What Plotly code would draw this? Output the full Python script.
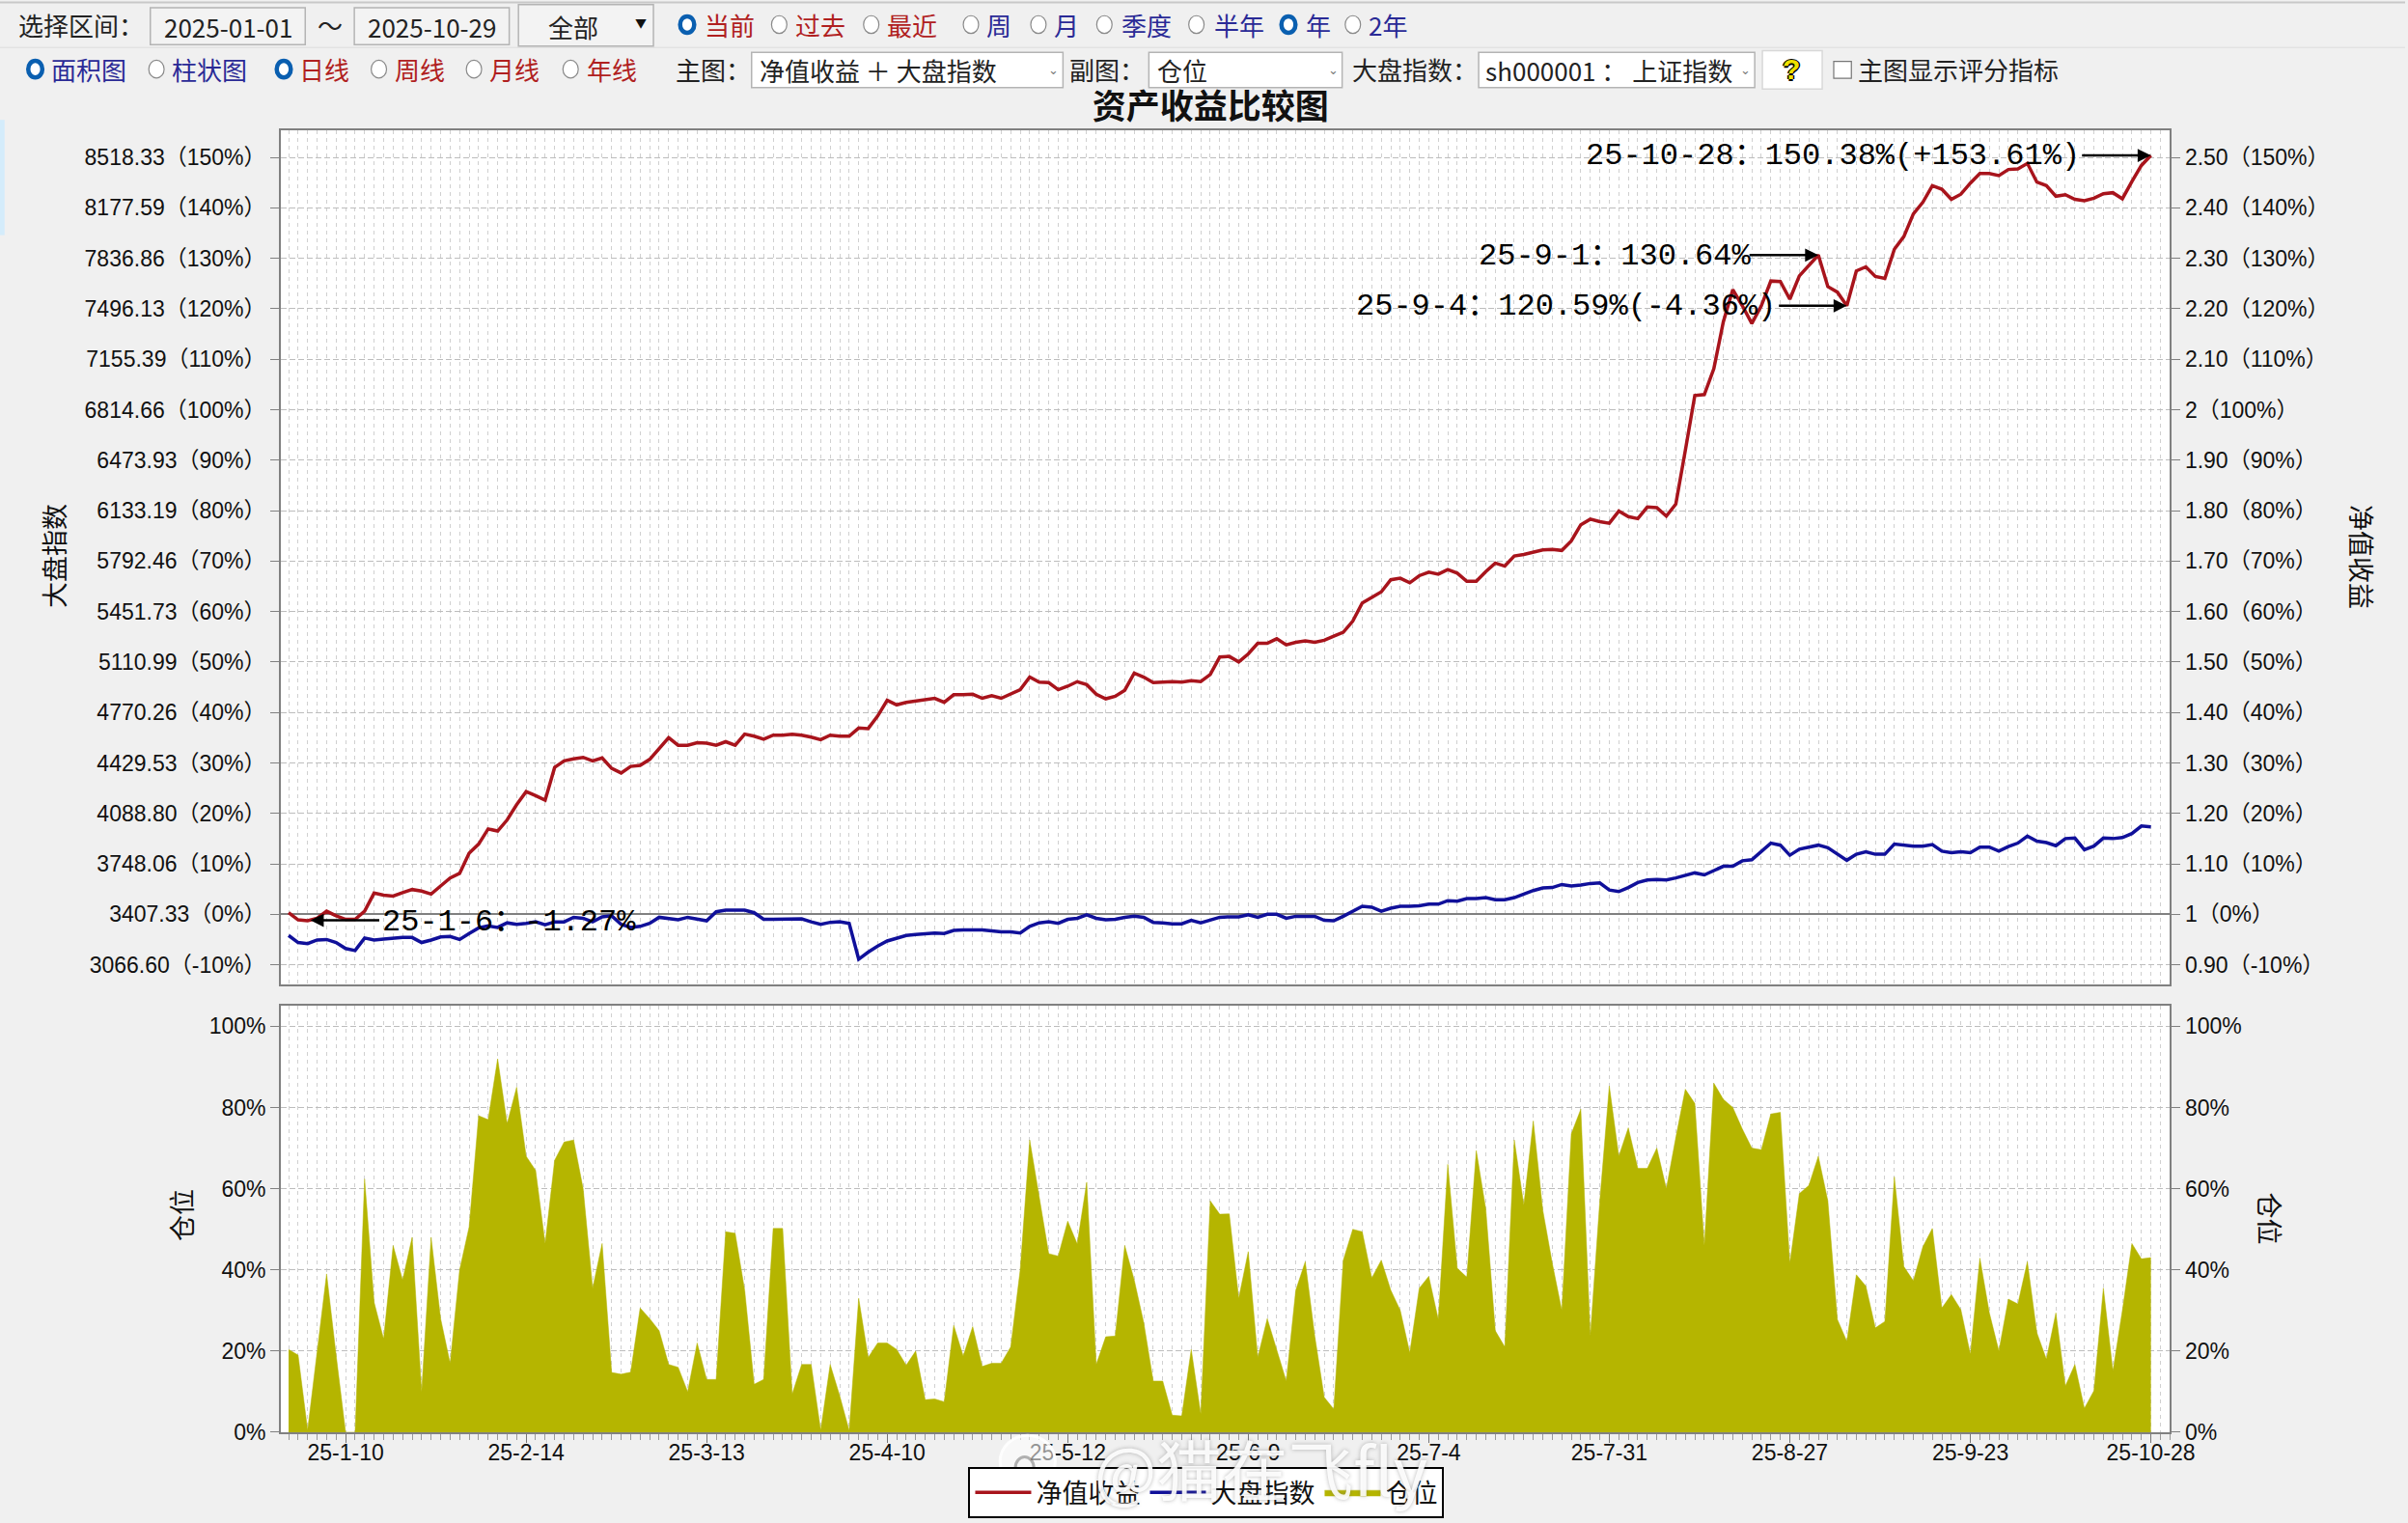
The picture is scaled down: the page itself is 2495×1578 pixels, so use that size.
import pandas as pd
import plotly.graph_objects as go

# ---------- data ----------
holidays = ["2025-01-28","2025-01-29","2025-01-30","2025-01-31","2025-02-03","2025-02-04",
            "2025-04-04","2025-05-01","2025-05-02","2025-05-05","2025-06-02",
            "2025-10-01","2025-10-02","2025-10-03","2025-10-06","2025-10-07","2025-10-08"]
dates = [f"{d.year % 100}-{d.month}-{d.day}" for d in pd.bdate_range("2025-01-02", "2025-10-28")
         if d.strftime("%Y-%m-%d") not in holidays]

tick_labels = ["25-1-10","25-2-14","25-3-13","25-4-10","25-5-12","25-6-9","25-7-4","25-7-31","25-8-27","25-9-23","25-10-28"]

net_return = [0.3,-1.1,-1.27,-0.8,0.6,-0.3,-1,-1,0.6,4.2,3.8,3.6,4.3,4.9,4.6,4,5.6,7.2,8.1,12.1,13.9,16.9,16.5,18.7,21.7,24.3,23.5,22.6,29.1,30.4,
 30.8,31.1,30.4,31,28.9,28,29.3,29.5,30.7,32.9,35,33.5,33.5,34,33.9,33.5,34.2,33.5,35.7,35.3,34.7,35.5,35.5,35.7,35.5,35.1,34.6,35.5,35.3,35.3,
 36.9,36.8,39.3,42.4,41.5,42,42.3,42.6,42.8,42,43.5,43.5,43.6,42.8,43.3,42.8,43.6,44.5,47,46,45.9,44.5,45.2,46.1,45.5,43.6,42.7,43.2,44.4,47.8,
 47,45.9,46,46.1,46,46.3,46.1,47.5,51,51.1,50,51.6,53.7,53.7,54.6,53.4,53.9,54.2,53.9,54.3,55.1,55.9,58.1,61.7,62.8,63.9,66.3,66.6,65.7,67.1,
 67.8,67.4,68.3,67.6,66,66,67.9,69.6,69,71,71.3,71.8,72.2,72.3,72.1,74,77.2,78.3,77.8,77.5,79.9,78.8,78.4,80.7,80.6,78.9,81.3,91.9,102.8,103,
 108.1,117.4,123.8,120.6,117.1,120.6,125.5,125.4,121.9,126.5,128.6,130.64,124.4,123.3,120.59,127.5,128.3,126.4,126,131.8,134.3,138.8,141.1,144.4,143.7,141.7,
 142.7,144.9,146.8,146.8,146.4,147.6,147.7,148.8,145.1,144.4,142.3,142.6,141.7,141.4,141.9,142.8,143,141.8,145.2,148.4,150.38]

index_return = [-4.2,-5.6,-5.8,-5.1,-5,-5.6,-6.8,-7.2,-4.7,-5.1,-4.9,-4.7,-4.6,-4.6,-5.6,-5.1,-4.5,-4.4,-5,-3.8,-2.7,-2.3,-2.6,-1.7,-2,-1.8,-1.5,-2.1,-1.5,-1.5,
 -0.6,-0.8,-1.5,-0.5,-0.3,-2,-2.6,-2.4,-1.8,-0.6,-0.9,-1.1,-0.6,-0.9,-1.3,0.5,0.8,0.8,0.8,0.3,-1,-1,-1,-1,-0.9,-1.5,-2,-1.6,-1.5,-1.8,
 -8.9,-7.5,-6.3,-5.3,-4.8,-4.2,-4,-3.8,-3.7,-3.8,-3.2,-3.1,-3.1,-3.1,-3.3,-3.5,-3.5,-3.7,-2.4,-1.7,-1.5,-1.8,-1,-0.8,-0.1,-0.8,-1.1,-1,-0.6,-0.4,
 -0.6,-1.6,-1.7,-1.9,-1.9,-1.2,-1.7,-1.2,-0.6,-0.5,-0.5,-0.1,-0.6,0,0,-0.8,-0.4,-0.4,-0.4,-1.2,-1.3,-0.4,0.6,1.6,1.4,0.6,1.2,1.6,1.6,1.7,
 2,2,2.7,2.6,3.1,3.1,3.3,2.9,2.9,3.3,4,4.7,5.2,5.3,5.9,5.6,5.8,6.1,6.2,4.8,4.5,5.3,6.3,6.8,6.9,6.8,7.2,7.7,8.2,7.8,
 8.7,9.5,9.5,10.6,10.8,12.5,14.1,13.7,11.7,12.9,13.3,13.7,13.2,11.9,10.7,11.9,12.4,11.9,11.9,13.9,13.7,13.5,13.5,13.8,12.5,12.2,12.4,12.2,13.3,13.3,
 12.5,13.4,14.1,15.5,14.5,14.2,13.6,15,15.1,12.8,13.5,15.1,15,15.2,16,17.5,17.3]

position = [20.4,19,0.5,20,39,19,0,0,62.4,32,23,46,37.5,48,10,48,28,17,40,50.6,78,77,92,76,85,68,64.5,46.5,67,71.5,
 72,60,35.5,46.5,14.7,14.3,14.8,30.6,28,25,16.7,16,10,22,13,13,49.4,49,35,11.8,13,50.2,50.2,9.4,16.7,16.7,0.5,16.7,9,0.4,
 33,18.4,22,22,20.4,16.5,20,8,8.2,7.5,26.3,18.8,26,16.2,17,17,21,40,72,58,44,43.4,52,46.4,61.6,16.7,23.5,23.7,46,37.5,
 27,12.6,12.6,4.2,4,20.4,4.5,57,53.7,53.8,33,44.5,18.4,28,20.4,12.6,35,42,23.7,8.6,5.7,42.4,50,49.4,38,42.4,35,30,19.6,35.5,
 38.4,27.8,66,40.4,38.2,69.4,55,25,21,72,56,76.7,54.7,41.6,30,73.5,79.6,23.7,57,85.3,68,75,65,65,70,60,72.6,84.5,81,46,
 86,82,80,74.7,70,69.6,78.4,78.8,41.6,58.8,60.8,68,57,27.8,22.4,38.8,36,25.7,27.3,62.9,40.8,37.3,45.7,50.2,30.6,33.9,30.2,19.2,42.9,29.4,
 20,32.8,31.6,42,24.5,18,29.4,11.4,16.7,5.9,10.2,35.5,15.1,30,46.5,42.7,43]

main_ticks = [-10,0,10,20,30,40,50,60,70,80,90,100,110,120,130,140,150]
left_ticktext = ["3066.60（-10%）","3407.33（0%）","3748.06（10%）","4088.80（20%）","4429.53（30%）","4770.26（40%）",
                 "5110.99（50%）","5451.73（60%）","5792.46（70%）","6133.19（80%）","6473.93（90%）","6814.66（100%）",
                 "7155.39（110%）","7496.13（120%）","7836.86（130%）","8177.59（140%）","8518.33（150%）"]
right_ticktext = ["0.90（-10%）","1（0%）","1.10（10%）","1.20（20%）","1.30（30%）","1.40（40%）","1.50（50%）","1.60（60%）",
                  "1.70（70%）","1.80（80%）","1.90（90%）","2（100%）","2.10（110%）","2.20（120%）","2.30（130%）","2.40（140%）","2.50（150%）"]
sub_ticks = [0,20,40,60,80,100]
sub_ticktext = ["0%","20%","40%","60%","80%","100%"]

# ---------- styling ----------
W, H = 2495, 1578
FIG_W, FIG_H = 2518, 1592
CJK = "Noto Sans CJK SC"
SANS = "Liberation Sans"
MONO = "Liberation Mono, Noto Sans CJK SC"
RED, BLUE, OLIVE = "#a8141c", "#10109a", "#b5b500"
NAVY, DRED = "#2a2a96", "#b02020"
GRID, MINOR, FRAME = "#bdbdbd", "#d0d0d0", "#808080"

X = lambda d: d / 1568
Y = lambda d: 1 - d / 991.7

idx = list(range(len(dates)))
tickvals = [dates.index(t) for t in tick_labels]
xrange_ = [-0.8, 198]

fig = go.Figure()
fig.add_trace(go.Scatter(x=idx, y=net_return, name="净值收益", mode="lines", line=dict(color=RED, width=3.5), yaxis="y3", xaxis="x"))
fig.add_trace(go.Scatter(x=idx, y=index_return, name="大盘指数", mode="lines", line=dict(color=BLUE, width=3.5), yaxis="y", xaxis="x"))
fig.add_trace(go.Scatter(x=idx, y=position, name="仓位", mode="lines", line=dict(color=OLIVE, width=0.5),
                         fill="tozeroy", fillcolor=OLIVE, yaxis="y2", xaxis="x2"))

minor_grid = dict(dtick=1, tick0=0, showgrid=True, gridcolor=MINOR, griddash="4px,4px", gridwidth=1)
main_range = [-13.84, 155.35]
common_y = dict(showgrid=True, gridcolor=GRID, griddash="6px,3px", gridwidth=1, ticks="outside", ticklen=9, tickcolor=FRAME,
                tickfont=dict(family=f"{SANS}, {CJK}", size=23, color="#111"), showline=True, linecolor=FRAME, linewidth=2)

ann, shapes = [], []

def label(dx, dy, text, color="#222", size=26, anchor="left", family=CJK, **kw):
    ann.append(dict(xref="paper", yref="paper", x=X(dx), y=Y(dy), text=text, showarrow=False, xanchor=anchor, yanchor="middle",
                    font=dict(family=family, size=size, color=color), **kw))

def box(x0, y0, x1, y1, fill="#f3f3f3", line="#b4b4b4", width=1.5):
    shapes.append(dict(type="rect", xref="paper", yref="paper", x0=X(x0), x1=X(x1), y0=Y(y0), y1=Y(y1),
                       fillcolor=fill, line=dict(color=line, width=width), layer="below"))

def radio(cx, cy, on=False):
    r = 4.6 if on else 5
    shapes.append(dict(type="circle", xref="paper", yref="paper", x0=X(cx - r), x1=X(cx + r), y0=Y(cy - r - 0.8), y1=Y(cy + r + 0.8),
                       fillcolor="#ffffff", line=dict(color="#0a5fb0" if on else "#8a8a8a", width=4.5 if on else 1.2)))

# separators and side strip
shapes.append(dict(type="line", xref="paper", yref="paper", x0=0, x1=1, y0=Y(1.5), y1=Y(1.5), line=dict(color="#c8c8c8", width=2), layer="below"))
shapes.append(dict(type="line", xref="paper", yref="paper", x0=0, x1=1, y0=Y(31), y1=Y(31), line=dict(color="#e2e2e2", width=1.5), layer="below"))
box(0, 78, 3, 153, fill="#d4ecfb", line="#d4ecfb", width=0)

# row 1
label(11, 16, "选择区间：")
box(98, 5, 199, 29)
label(148.5, 17, "2025-01-01", anchor="center")
label(215, 16, "～", anchor="center")
box(231, 5, 332, 29)
label(281.5, 17, "2025-10-29", anchor="center")
box(338, 3, 426, 30)
label(374, 17, "全部", anchor="center")
label(418, 15, "▼", anchor="center", size=12, color="#111")
for cx, text, color, tx, on in [(448, "当前", DRED, 458, True), (508, "过去", DRED, 517, False), (568, "最近", DRED, 577, False),
                                (633, "周", NAVY, 642, False), (677, "月", NAVY, 686, False), (720, "季度", NAVY, 730, False),
                                (780, "半年", NAVY, 790, False), (840, "年", NAVY, 850, True), (882, "2年", NAVY, 891, False)]:
    radio(cx, 16, on)
    label(tx, 16, text, color=color)

# row 2
for cx, text, color, tx, on in [(23, "面积图", NAVY, 32, True), (102, "柱状图", NAVY, 111, False), (185, "日线", DRED, 194, True),
                                (247, "周线", DRED, 256, False), (309, "月线", DRED, 318, False), (372, "年线", DRED, 381, False)]:
    radio(cx, 45, on)
    label(tx, 45, text, color=color)
label(439, 45, "主图：")
box(490, 34, 693, 57, fill="#ffffff")
label(494, 45.5, "净值收益 ＋ 大盘指数")
label(687, 45, "⌄", anchor="center", size=13, color="#777")
label(696, 45, "副图：")
box(749, 34, 875, 57, fill="#ffffff")
label(753, 45.5, "仓位")
label(869, 45, "⌄", anchor="center", size=13, color="#777")
label(880, 45, "大盘指数：")
box(964, 34, 1144, 57, fill="#ffffff")
label(967, 45.5, "sh000001 ： 上证指数")
label(1138, 45, "⌄", anchor="center", size=13, color="#777")
box(1149, 33, 1188, 58, fill="#ffffff", line="#d8d8d8")
label(1168, 45, "<b>?</b>", anchor="center", size=30, color="#f0e000", family=SANS)
ann[-1]["font"]["shadow"] = "1.5px 0 0 #000, -1.5px 0 0 #000, 0 1.5px 0 #000, 0 -1.5px 0 #000"
box(1195.5, 40, 1207, 51, fill="#ffffff", line="#777777", width=1.2)
label(1210, 45, "主图显示评分指标")

# axis titles
label(35, 362, "大盘指数", anchor="center", size=27, color="#111", textangle=-90)
label(1540, 362, "净值收益", anchor="center", size=27, color="#111", textangle=90)
label(118, 791, "仓位", anchor="center", size=27, color="#111", textangle=-90)
label(1480, 793, "仓位", anchor="center", size=27, color="#111", textangle=90)

# callouts: text plus arrow, on the main chart axes
def callout(x, y, tail, text, text_x, text_y, anchor):
    ann.append(dict(xref="x", yref="y", x=text_x, y=text_y, text=text, showarrow=False, xanchor=anchor, yanchor="middle",
                    font=dict(family=MONO, size=32, color="#000")))
    ann.append(dict(xref="x", yref="y", axref="x", ayref="y", x=x, y=y, ax=tail, ay=y, text="", showarrow=True,
                    arrowhead=2, arrowsize=1.1, arrowwidth=2.5, arrowcolor="#000"))

callout(196, 150.38, 188.6, "25-10-28：150.38%(+153.61%)", 188.7, 150.3, "right")
callout(161, 130.64, 153.6, "25-9-1：130.64%", 154.1, 130.5, "right")
callout(164, 120.59, 156.7, "25-9-4：120.59%(-4.36%)", 156.7, 120.4, "right")
callout(2.3, -1.2, 9.7, "25-1-6：-1.27%", 9.6, -1.5, "left")

# watermark
label(712, 955, "@猫在飞fly", size=68, color="rgba(255,255,255,0.9)")
ann[-1]["font"]["shadow"] = "0 0 4px rgba(110,110,110,0.55)"
shapes.append(dict(type="circle", xref="paper", yref="paper", x0=X(652), x1=X(688), y0=Y(934), y1=Y(968),
                   fillcolor="rgba(255,255,255,0.55)", line=dict(color="rgba(255,255,255,0.85)", width=3), layer="above"))
shapes.append(dict(type="circle", xref="paper", yref="paper", x0=X(662), x1=X(674), y0=Y(948), y1=Y(962),
                   fillcolor="rgba(240,240,240,0.2)", line=dict(color="rgba(90,90,90,0.45)", width=3), layer="above"))

fig.update_layout(
    width=FIG_W, height=FIG_H, margin=dict(l=0, r=0, t=0, b=0), autosize=False,
    paper_bgcolor="#f0f0f0", plot_bgcolor="#ffffff", hovermode=False,
    title=dict(text="<b>资产收益比较图</b>", x=781 / 1568, y=1 - 69 / 991.7, xanchor="center", yanchor="middle",
               font=dict(family=CJK, size=35, color="#111")),
    xaxis=dict(domain=[291.5 / W, 2251 / W], range=xrange_, anchor="y", showticklabels=False, ticks="", showgrid=False, zeroline=False,
               tickmode="array", tickvals=tickvals, ticktext=tick_labels, minor=minor_grid,
               showline=True, mirror=True, linecolor=FRAME, linewidth=2),
    xaxis2=dict(domain=[291.5 / W, 2251 / W], range=xrange_, anchor="y2", showgrid=False, zeroline=False,
                tickmode="array", tickvals=tickvals, ticktext=tick_labels, ticks="outside", ticklen=9, tickcolor="#777",
                ticklabelstandoff=-10, tickfont=dict(family=SANS, size=23, color="#111"),
                minor=dict(**minor_grid, ticks="outside", ticklen=6, tickcolor="#999"),
                showline=True, mirror=True, linecolor=FRAME, linewidth=2),
    yaxis=dict(domain=[1 - 1019 / H, 1 - 135 / H], range=main_range, anchor="x", tickmode="array", tickvals=main_ticks,
               ticktext=left_ticktext, zeroline=True, zerolinecolor="#808080", zerolinewidth=2, **common_y),
    yaxis3=dict(overlaying="y", side="right", range=main_range, anchor="x", tickmode="array", tickvals=main_ticks,
                ticktext=right_ticktext, zeroline=False, **common_y),
    yaxis2=dict(domain=[1 - 1483 / H, 1 - 1041.7 / H], range=[0, 105], anchor="x2", tickmode="array", tickvals=sub_ticks,
                ticktext=sub_ticktext, zeroline=False, **common_y),
    yaxis4=dict(overlaying="y2", side="right", range=[0, 105], anchor="x2", tickmode="array", tickvals=sub_ticks,
                ticktext=sub_ticktext, zeroline=False, **common_y),
    legend=dict(orientation="h", x=786.5 / 1568, xanchor="center", y=1 - 988 / 991.7, yanchor="bottom",
                bgcolor="#ffffff", bordercolor="#000000", borderwidth=2, font=dict(family=CJK, size=27, color="#111"),
                itemwidth=58, tracegroupgap=0),
    annotations=ann, shapes=shapes,
)
# the right-hand axis of the lower chart needs a trace to be drawn
fig.add_trace(go.Scatter(x=idx, y=position, mode="lines", line=dict(width=0, color=OLIVE), showlegend=False, yaxis="y4", xaxis="x2"))

fig.write_html(
    "out.html",
    config={"displayModeBar": False},
    post_script="document.body.style.margin='0';document.documentElement.style.overflow='hidden';document.body.style.background='#f0f0f0';",
)
